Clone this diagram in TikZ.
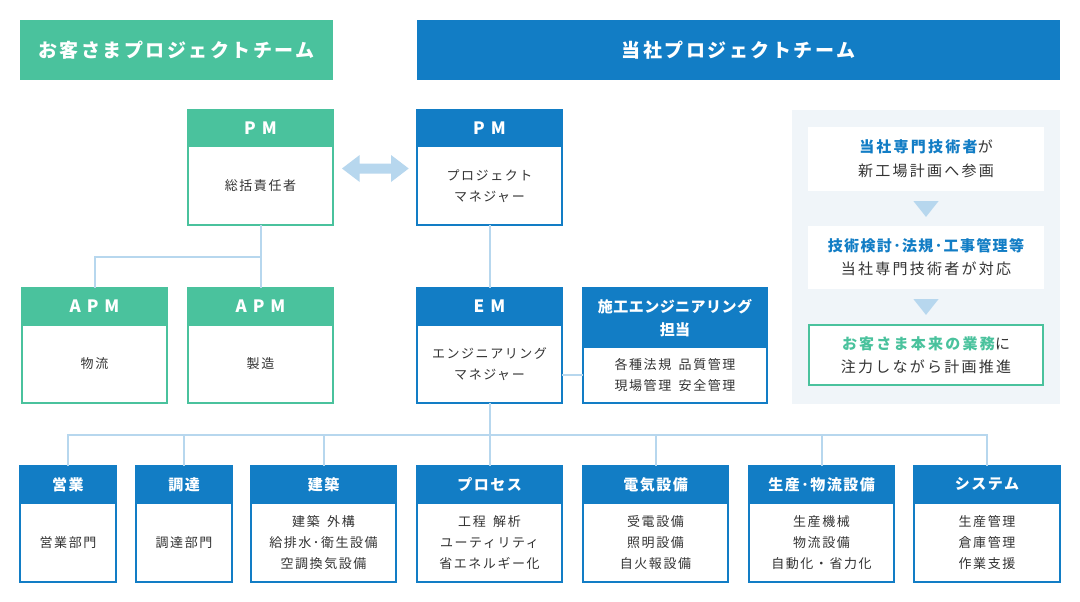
\documentclass[tikz,border=0pt]{standalone}
\usepackage{fontspec}
\usetikzlibrary{calc}
\newfontfamily\fA[LetterSpace=12]{Noto Sans CJK JP}
\newfontfamily\fB[LetterSpace=13]{Noto Sans CJK JP}
\newfontfamily\fC[LetterSpace=10]{Noto Sans CJK JP}
\newfontfamily\fD[LetterSpace=15]{Noto Sans CJK JP}
\newfontfamily\fE[LetterSpace=3]{Noto Sans CJK JP}
\newfontfamily\fF[LetterSpace=9]{Noto Sans CJK JP}
\newfontfamily\fP[LetterSpace=35]{Noto Sans CJK JP}
\definecolor{grn}{HTML}{4AC29D}
\definecolor{blu}{HTML}{127DC5}
\definecolor{lnk}{HTML}{B7D7EE}
\definecolor{pnl}{HTML}{F0F5F9}
\definecolor{txt}{HTML}{333333}
\tikzset{
  hdr/.style={inner sep=0pt, outer sep=0pt, line width=1.5pt, text=white, align=center,
    font=\fC\bfseries\fontsize{15}{23}\selectfont},
  bdy/.style={inner sep=0pt, outer sep=0pt, line width=1.5pt, fill=white, text=txt, align=center,
    font=\fA\fontsize{13}{21}\selectfont},
  conn/.style={draw=lnk, line width=2pt},
  banner/.style={inner sep=0pt, text=white, font=\fB\bfseries\fontsize{19}{19}\selectfont},
  pbox/.style={inner sep=0pt, fill=white, text=txt, align=center, font=\fD\fontsize{15}{23.5}\selectfont},
  tri/.style={fill=lnk},
}
\newcommand{\pmtext}[1]{{\fP\bfseries\fontsize{17}{17}\selectfont #1}}
\newcommand{\orgbox}[9]{%
  \node[bdy, draw=#7, minimum width={#3-#2}, minimum height={#6-#5}] (#1B) at ({(#2+#3)/2},{(#5+#6)/2}) {#9};
  \node[hdr, draw=#7, fill=#7, minimum width={#3-#2}, minimum height={#5-#4}] (#1H) at ({(#2+#3)/2},{(#4+#5)/2}) {#8};
}
\begin{document}
\begin{tikzpicture}[x=1pt,y=-1pt]
\useasboundingbox[fill=white] (0,0) rectangle (1080,602);
% banners
\node[banner, fill=grn, minimum width=313, minimum height=60] (bang) at (176.5,50) {お客さまプロジェクトチーム};
\node[banner, fill=blu, minimum width=643, minimum height=60] (banb) at (738.5,50) {当社プロジェクトチーム};
% upper boxes
\orgbox{pmg}{188}{333}{110}{146.7}{225}{grn}{\pmtext{PM}}{総括責任者}
\orgbox{pmb}{417}{562}{110}{146.7}{225}{blu}{\pmtext{PM}}{プロジェクト\\マネジャー}
\orgbox{apa}{22}{167}{288}{325}{403}{grn}{\pmtext{APM}}{物流}
\orgbox{apb}{188}{333}{288}{325}{403}{grn}{\pmtext{APM}}{製造}
\orgbox{em}{417}{562}{288}{325}{403}{blu}{\pmtext{EM}}{エンジニアリング\\マネジャー}
\orgbox{sek}{583}{767}{288}{347.7}{403}{blu}{{\fE 施工エンジニアリング}\\{\fE 担当}}{各種法規\hspace{3pt} 品質管理\\現場管理\hspace{3pt} 安全管理}
% bottom boxes
\orgbox{eig}{20}{116}{466}{503}{582}{blu}{営業}{営業部門}
\orgbox{cho}{136}{232}{466}{503}{582}{blu}{調達}{調達部門}
\orgbox{ken}{251}{396}{466}{503}{582}{blu}{建築}{建築\hspace{3pt} 外構\\給排水･衛生設備\\空調換気設備}
\orgbox{pro}{417}{562}{466}{503}{582}{blu}{プロセス}{工程\hspace{3pt} 解析\\ユーティリティ\\省エネルギー化}
\orgbox{den}{583}{728}{466}{503}{582}{blu}{電気設備}{受電設備\\照明設備\\自火報設備}
\orgbox{sei}{749}{894}{466}{503}{582}{blu}{生産･物流設備}{生産機械\\物流設備\\自動化・省力化}
\orgbox{sys}{914}{1060}{466}{503}{582}{blu}{システム}{生産管理\\倉庫管理\\作業支援}
% connectors
\coordinate (gj) at (260.5,257);
\coordinate (bus) at (489.5,435);
\draw[conn] (pmgB.south) -- (apbH.north);
\draw[conn] (apaH.north) |- (gj);
\draw[conn] (pmbB.south) -- (emH.north);
\draw[conn] (sekB.west -| emB.east) -- (sekB.west);
\draw[conn] (emB.south) -- (proH.north);
\foreach \n in {eig,cho,ken,den,sei,sys}{\draw[conn] (\n H.north) |- (bus);}
% double arrow
\fill[lnk] (342,168.5) -- (359.7,155) -- (359.7,163.5) -- (391,163.5) -- (391,155) -- (408.7,168.5)
  -- (391,182) -- (391,173.5) -- (359.7,173.5) -- (359.7,182) -- cycle;
% right panel
\fill[pnl] (792,110) rectangle (1060,404);
\node[pbox, minimum width=236, minimum height=63.7] (p1) at (926,158.85)
  {{\bfseries\color{blu}当社専門技術者}が\\新工場計画へ参画};
\node[pbox, minimum width=236, minimum height=63] (p2) at (926,257.2)
  {{\fF\bfseries\color{blu}技術検討･法規･工事管理等}\\当社専門技術者が対応};
\node[pbox, draw=grn, line width=2pt, minimum width=234, minimum height=60] (p3) at (926,355)
  {{\bfseries\color{grn}お客さま本来の業務}に\\注力しながら計画推進};
\fill[tri] ($(p1.south)+(-12.5,10.3)$) -- ($(p1.south)+(12.5,10.3)$) -- ($(p1.south)+(0,26)$) -- cycle;
\fill[tri] ($(p2.south)+(-12.5,10.3)$) -- ($(p2.south)+(12.5,10.3)$) -- ($(p2.south)+(0,26)$) -- cycle;
\end{tikzpicture}
\end{document}
